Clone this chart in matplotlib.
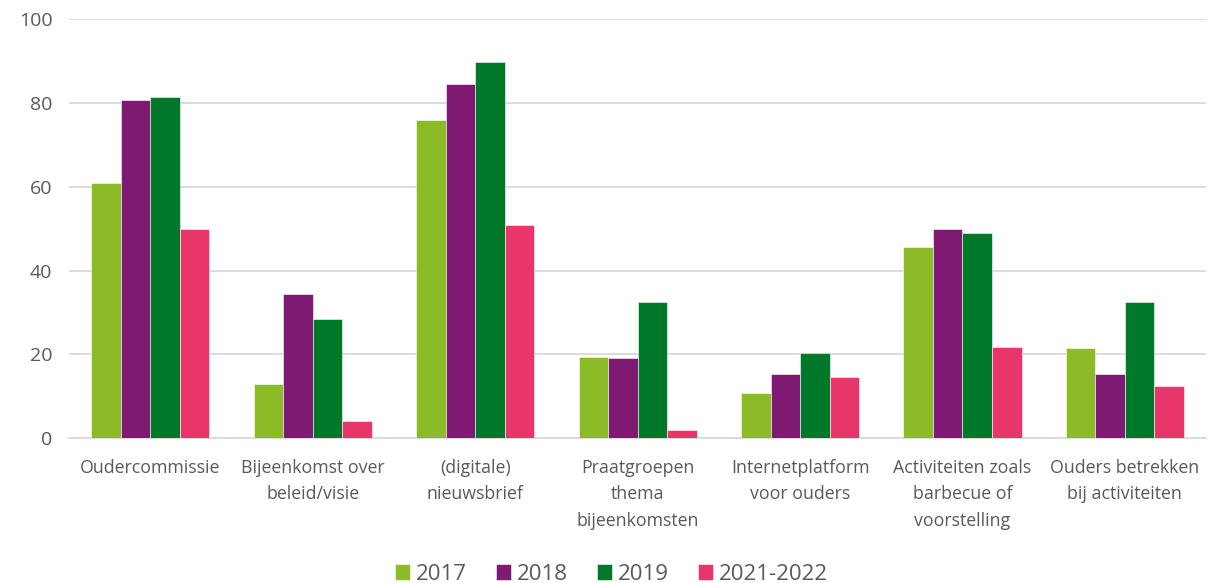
import matplotlib.pyplot as plt
import numpy as np

plt.rcParams["font.family"] = ["Open Sans", "DejaVu Sans"]

categories = [
    "Oudercommissie",
    "Bijeenkomst over\nbeleid/visie",
    "(digitale)\nnieuwsbrief",
    "Praatgroepen\nthema\nbijeenkomsten",
    "Internetplatform\nvoor ouders",
    "Activiteiten zoals\nbarbecue of\nvoorstelling",
    "Ouders betrekken\nbij activiteiten",
]
series_names = ["2017", "2018", "2019", "2021-2022"]
v2017 = [60.8, 12.8, 76.0, 19.4, 10.7, 45.5, 21.6]
v2018 = [80.7, 34.4, 84.5, 19.0, 15.2, 49.8, 15.2]
v2019 = [81.5, 28.4, 89.7, 32.5, 20.3, 48.9, 32.5]
v2122 = [49.8, 4.0, 50.8, 1.9, 14.5, 21.7, 12.3]

colors = ["#8BBB26", "#7E1A71", "#007829", "#E8366B"]
TEXT = "#595959"

fig = plt.figure(figsize=(12.11, 5.83), dpi=100)
ax = fig.add_axes([0.057, 0.2487, 0.939, 0.7183])

x = np.arange(len(categories))
bw = 1 / 5.5
for i, (vals, c, name) in enumerate(zip([v2017, v2018, v2019, v2122], colors, series_names)):
    ax.bar(x + (i - 1.5) * bw, vals, width=bw, color=c, label=name,
           edgecolor="white", linewidth=0.4, zorder=3)

ax.set_xlim(-0.5, len(categories) - 0.5)
ax.set_ylim(0, 100)
ax.set_yticks(range(0, 101, 20))
ax.yaxis.grid(True, color="#D9D9D9", lw=1.3, zorder=0)
ax.set_axisbelow(True)
for s in ["top", "right", "left"]:
    ax.spines[s].set_visible(False)
ax.spines["bottom"].set_color("#D9D9D9")
ax.spines["bottom"].set_linewidth(1.3)
ax.tick_params(axis="y", length=0, pad=12, labelsize=14, labelcolor=TEXT)
ax.tick_params(axis="x", length=0, pad=15, labelsize=12.8, labelcolor=TEXT)
ax.set_xticks(x)
ax.set_xticklabels(categories, linespacing=1.6)

fig.legend(loc="lower center", bbox_to_anchor=(0.505, -0.037), ncol=4,
           frameon=False, fontsize=16, handlelength=0.7, handleheight=0.7,
           handletextpad=0.25, columnspacing=1.3, labelcolor=TEXT)

fig.savefig("out.png", dpi=100, facecolor="white")
